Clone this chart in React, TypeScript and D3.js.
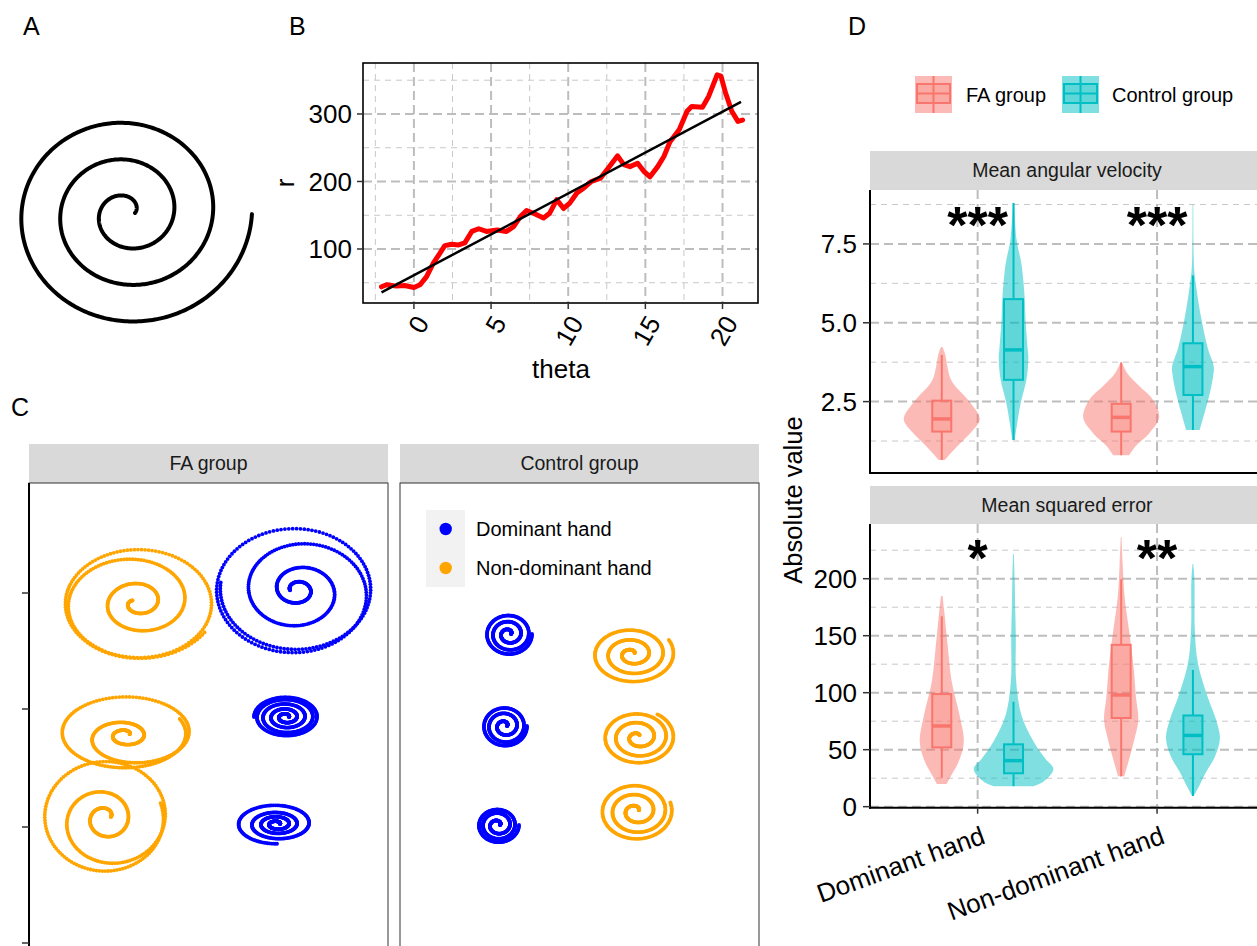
import React from "react";
import * as d3 from "d3";

const FONT = "'Liberation Sans', Arial, Helvetica, sans-serif";
const RED = "#F8766D";
const TEAL = "#00BFC4";
const BLUE = "#0000FF";
const ORANGE = "#FFA500";

// ---------- Panel B data ----------
const thetaVals = [-2.1,-1.77,-1.13,-0.6,0,0.4,0.82,1.26,1.69,2.0,2.45,2.9,3.3,3.75,4.2,4.7,5.4,6.0,6.45,6.9,7.3,7.75,8.4,8.8,9.26,9.7,10.1,10.56,11.0,11.5,12.1,12.6,13.2,13.6,14.0,14.5,14.9,15.3,15.8,16.2,16.6,17.2,17.7,18.0,18.7,19.1,19.65,19.9,20.2,20.6,21.0,21.3];
const rVals = [44,47,45,46,43,47,59,79,94,105,107,106,109,126,130,126,128,126,133,148,157,153,146,153,173,160,168,183,190,200,205,220,238,225,222,227,215,207,222,237,259,277,304,311,310,326,358,356,331,304,289,291];
const fitTheta = [-2.1, 21.2];
const fitR = [35.6, 318];
const bXTicks = [0, 5, 10, 15, 20];
const bXMinor = [-2.5, 2.5, 7.5, 12.5, 17.5];
const bYTicks = [100, 200, 300];
const bYMinor = [50, 150, 250, 350];

// ---------- Panel C data (drawing units) ----------
const cYTicks = [110, 226, 344, 460];
const handLegend = ["Dominant hand", "Non-dominant hand"];
const spirals = [
  { panel: "FA", hand: "Non-dominant hand", cx: 107, cy: 119, ky: 0.74, a0: 2.6, dir: 1, r: [4, 12, 20, 26, 24, 34, 46, 54, 64, 74, 78, 72, 68, 74, 80] },
  { panel: "FA", hand: "Dominant hand", cx: 267, cy: 108, ky: 0.8, a0: 3.0, dir: -1, r: [6, 12, 16, 14, 18, 30, 40, 44, 46, 60, 72, 78, 80, 78, 74, 72, 76] },
  { panel: "FA", hand: "Non-dominant hand", cx: 98, cy: 252, ky: 0.56, a0: 0.5, dir: 1, r: [3, 10, 16, 18, 16, 24, 38, 54, 66, 70, 62, 56, 60] },
  { panel: "FA", hand: "Dominant hand", cx: 257, cy: 234, ky: 0.62, a0: 0, dir: 1, r: [3, 5, 7, 9, 11, 13, 15, 17, 19, 21, 23, 25, 27, 28, 29, 30, 31, 32, 32] },
  { panel: "FA", hand: "Non-dominant hand", cx: 78, cy: 335, ky: 0.9, a0: 0.3, dir: 1, r: [4, 12, 18, 22, 20, 30, 42, 52, 60, 64, 62, 58, 56] },
  { panel: "FA", hand: "Dominant hand", cx: 248, cy: 341, ky: 0.52, a0: 0, dir: 1, r: [3, 5, 8, 10, 12, 14, 16, 18, 20, 22, 25, 28, 32, 36, 39, 38] },
  { panel: "Control", hand: "Dominant hand", cx: 109, cy: 151, ky: 0.88, a0: 0, dir: 1, r: [2, 5, 8, 10, 12, 14, 16, 18, 20, 21, 22, 23, 23] },
  { panel: "Control", hand: "Non-dominant hand", cx: 232, cy: 171, ky: 0.7, a0: 0.5, dir: 1, r: [3, 7, 11, 15, 18, 21, 25, 29, 32, 35, 38, 40, 42] },
  { panel: "Control", hand: "Dominant hand", cx: 105, cy: 243, ky: 0.9, a0: 0, dir: 1, r: [2, 5, 8, 10, 12, 14, 16, 18, 19, 20, 21, 22, 22] },
  { panel: "Control", hand: "Non-dominant hand", cx: 238, cy: 254, ky: 0.75, a0: 1.0, dir: 1, r: [3, 7, 11, 15, 18, 21, 24, 27, 30, 32, 34, 35, 36] },
  { panel: "Control", hand: "Dominant hand", cx: 98, cy: 342, ky: 0.86, a0: 0, dir: 1, r: [2, 5, 8, 10, 12, 14, 15, 16, 17, 18, 19, 20, 21] },
  { panel: "Control", hand: "Non-dominant hand", cx: 236, cy: 328, ky: 0.8, a0: 0.3, dir: 1, r: [3, 7, 11, 15, 18, 21, 24, 27, 30, 32, 34, 35, 36] },
];

// ---------- Panel D data ----------
const handCats = ["Dominant hand", "Non-dominant hand"];
const groups = ["FA group", "Control group"];
const topTicks = [2.5, 5.0, 7.5];
const topMinor = [1.25, 3.75, 6.25, 8.75];
const botTicks = [0, 50, 100, 150, 200];
const botMinor = [25, 75, 125, 175, 225];
// density profiles: [value, relative half width]
const avFaDom = [[0.65,0.08],[1.1,0.42],[1.55,0.79],[1.95,1.0],[2.45,0.76],[3.15,0.26],[3.6,0.15],[4.0,0.09],[4.23,0.02]];
const avCtDom = [[1.28,0.03],[2.4,0.18],[3.2,0.34],[3.9,0.39],[4.2,0.37],[5.0,0.32],[5.85,0.29],[6.85,0.21],[7.65,0.08],[8.8,0.02]];
const avFaNon = [[0.8,0.21],[1.1,0.39],[1.5,0.74],[2.0,1.0],[2.55,0.84],[3.0,0.47],[3.4,0.16],[3.74,0.02]];
const avCtNon = [[1.6,0.18],[2.2,0.32],[2.8,0.45],[3.3,0.53],[3.6,0.55],[4.2,0.39],[5.2,0.21],[6.2,0.08],[6.75,0.03],[8.74,0.01]];
const mseFaDom = [[20,0.13],[28,0.26],[40,0.45],[57,0.58],[80,0.47],[110,0.26],[140,0.16],[170,0.07],[184.8,0.02]];
const mseCtDom = [[18,0.53],[22,0.79],[33,1.05],[42,0.84],[57,0.53],[80,0.21],[110,0.07],[150,0.06],[180,0.04],[200,0.03],[221.7,0.01]];
const mseFaNon = [[26.6,0.08],[38,0.18],[58,0.34],[76,0.45],[96,0.39],[125,0.32],[154,0.21],[184,0.09],[213,0.04],[236.3,0.01]];
const mseCtNon = [[9.4,0.02],[18,0.16],[30,0.34],[44,0.58],[60,0.71],[76,0.61],[96,0.39],[126,0.13],[155,0.05],[199,0.04],[212.9,0.01]];
// box stats: [lower whisker, q1, median, q3, upper whisker]
const avBoxFaDom = [0.65, 1.55, 1.95, 2.53, 3.98];
const avBoxCtDom = [1.28, 3.19, 4.14, 5.75, 8.8];
const avBoxFaNon = [0.8, 1.55, 2.0, 2.43, 3.74];
const avBoxCtNon = [1.6, 2.71, 3.61, 4.35, 6.5];
const mseBoxFaDom = [25.4, 52, 70.8, 98.8, 167];
const mseBoxCtDom = [18, 29.3, 40.4, 54.7, 92];
const mseBoxFaNon = [26.6, 77.8, 98, 142, 199.5];
const mseBoxCtNon = [9.4, 46, 62.5, 80, 120];
const avStars = ["***", "***"];
const mseStars = ["*", "**"];

function Violin({ dens, box, cx, y, color }: any) {
  const hw = 38;
  const area = d3
    .area<number[]>()
    .y((d) => y(d[0]))
    .x0((d) => cx - d[1] * hw)
    .x1((d) => cx + d[1] * hw)
    .curve(d3.curveCatmullRom.alpha(0.5));
  const bw = 9.5;
  return (
    <g>
      <path d={area(dens) || ""} fill={color} fillOpacity={0.5} stroke="none" />
      <line x1={cx} x2={cx} y1={y(box[0])} y2={y(box[1])} stroke={color} strokeWidth={2} />
      <line x1={cx} x2={cx} y1={y(box[3])} y2={y(box[4])} stroke={color} strokeWidth={2} />
      <rect x={cx - bw} width={2 * bw} y={y(box[3])} height={y(box[1]) - y(box[3])} fill={color} fillOpacity={0.25} stroke={color} strokeWidth={2} />
      <line x1={cx - bw} x2={cx + bw} y1={y(box[2])} y2={y(box[2])} stroke={color} strokeWidth={3.5} />
    </g>
  );
}

function spiralDots(s: any) {
  const n = s.r.length - 1;
  const total = (n * Math.PI) / 2;
  const step = 0.05;
  const steps = Math.ceil(total / step);
  const interp = d3.interpolateBasis(s.r);
  return d3.range(steps + 1).map((i) => {
    const t = i / steps;
    const a = s.a0 + s.dir * t * total;
    const rr = interp(t);
    return [s.cx + rr * Math.cos(a), s.cy - s.ky * rr * Math.sin(a)];
  });
}

export default function App() {
  // ---------- Panel A ----------
  const aAngles = d3.range(0, 6 * Math.PI + 0.001, 0.02);
  const rA = d3.scaleLinear().domain([0, 6 * Math.PI]).range([8, 125]);
  const aLine = d3.line<number>()
    .x((t) => 127 + rA(t) * Math.cos(t))
    .y((t) => 213 - 0.94 * rA(t) * Math.sin(t));

  // ---------- Panel B ----------
  const xB = d3.scaleLinear().domain([-3.3, 22.3]).range([363, 758]);
  const yB = d3.scaleLinear().domain([20, 375.5]).range([303, 63]);
  const redLine = d3.line<number>().x((i) => xB(thetaVals[i])).y((i) => yB(rVals[i]));
  const fitLine = d3.line<number>().x((i) => xB(fitTheta[i])).y((i) => yB(fitR[i]));

  // ---------- Panel C ----------
  const yC = d3.scaleLinear().domain([0, 463]).range([483, 946]);
  const xCfa = d3.scaleLinear().domain([0, 359]).range([29, 388]);
  const xCct = d3.scaleLinear().domain([0, 359]).range([400, 759]);
  const handColor = d3.scaleOrdinal<string>().domain(handLegend).range([BLUE, ORANGE]);

  // ---------- Panel D ----------
  const xD = d3.scaleLinear().domain([0.4, 2.6]).range([870, 1264.7]);
  const yTop = d3.scaleLinear().domain([0.236, 9.21]).range([473, 190]);
  const yBot = d3.scaleLinear().domain([-0.9, 248]).range([807.7, 524]);
  const groupColor = d3.scaleOrdinal<string>().domain(groups).range([RED, TEAL]);
  const dodge = 0.2;

  const gridMajor = { stroke: "#bdbdbd", strokeWidth: 2, strokeDasharray: "9,5" };
  const gridMinor = { stroke: "#c8c8c8", strokeWidth: 1, strokeDasharray: "6,5" };

  const topViolins = [
    { dens: avFaDom, box: avBoxFaDom, c: 0, g: 0 },
    { dens: avCtDom, box: avBoxCtDom, c: 0, g: 1 },
    { dens: avFaNon, box: avBoxFaNon, c: 1, g: 0 },
    { dens: avCtNon, box: avBoxCtNon, c: 1, g: 1 },
  ];
  const botViolins = [
    { dens: mseFaDom, box: mseBoxFaDom, c: 0, g: 0 },
    { dens: mseCtDom, box: mseBoxCtDom, c: 0, g: 1 },
    { dens: mseFaNon, box: mseBoxFaNon, c: 1, g: 0 },
    { dens: mseCtNon, box: mseBoxCtNon, c: 1, g: 1 },
  ];

  const dPanel = (y: any, ticks: number[], minor: number[], top: number, bottom: number, violins: any[], stars: string[], starVal: number, showX: boolean, stripTop: number, title: string) => (
    <g>
      <rect x={870} y={stripTop} width={395} height={top - stripTop} fill="#d9d9d9" />
      <text x={1067} y={(stripTop + top) / 2} dy="0.35em" textAnchor="middle" fontSize={19.5} fill="#1a1a1a">{title}</text>
      {minor.filter((v) => y(v) > top && y(v) < bottom).map((v) => (
        <line key={"mi" + v} x1={870} x2={1265} y1={y(v)} y2={y(v)} {...gridMinor} />
      ))}
      {ticks.map((v) => (
        <line key={"ma" + v} x1={870} x2={1265} y1={y(v)} y2={y(v)} {...gridMajor} />
      ))}
      {handCats.map((h, i) => (
        <line key={h} x1={xD(i + 1)} x2={xD(i + 1)} y1={top} y2={bottom} {...gridMajor} />
      ))}
      {violins.map((v, i) => (
        <Violin key={i} dens={v.dens} box={v.box} cx={xD(v.c + 1 + (v.g === 0 ? -dodge : dodge))} y={y} color={groupColor(groups[v.g])} />
      ))}
      {stars.map((s, i) => (
        <text key={i} x={xD(i + 1)} y={y(starVal)} textAnchor="middle" fontSize={52} fontWeight="bold" fill="#000">{s}</text>
      ))}
      <line x1={870} x2={870} y1={top} y2={bottom + 1} stroke="#000" strokeWidth={2} />
      <line x1={869} x2={1265} y1={bottom} y2={bottom} stroke="#000" strokeWidth={2} />
      {ticks.map((v) => (
        <g key={"t" + v}>
          <line x1={863} x2={870} y1={y(v)} y2={y(v)} stroke="#333" strokeWidth={1.5} />
          <text x={857} y={y(v)} dy="0.36em" textAnchor="end" fontSize={26} fill="#000">{y === yTop ? d3.format(".1f")(v) : v}</text>
        </g>
      ))}
      {showX && handCats.map((h, i) => (
        <g key={"x" + h}>
          <line x1={xD(i + 1)} x2={xD(i + 1)} y1={bottom} y2={bottom + 6} stroke="#333" strokeWidth={1.5} />
          <text transform={`translate(${xD(i + 1) + 9},${bottom + 35}) rotate(-20)`} textAnchor="end" fontSize={26} fill="#000">{h}</text>
        </g>
      ))}
    </g>
  );

  return (
    <svg width={1257} height={946} style={{ position: "absolute", left: 0, top: 0, background: "#fff" }} fontFamily={FONT}>
      <rect x={0} y={0} width={1257} height={946} fill="#fff" />
      {/* Panel labels */}
      <text x={23} y={35} fontSize={25}>A</text>
      <text x={289} y={35} fontSize={25}>B</text>
      <text x={11} y={416} fontSize={25}>C</text>
      <text x={848} y={35} fontSize={25}>D</text>

      {/* Panel A */}
      <path d={aLine(aAngles) || ""} fill="none" stroke="#000" strokeWidth={4} strokeLinecap="round" />

      {/* Panel B */}
      <g>
        <rect x={363} y={63} width={395} height={240} fill="#fff" />
        {bXMinor.map((v) => <line key={"bxm" + v} x1={xB(v)} x2={xB(v)} y1={63} y2={303} {...gridMinor} />)}
        {bYMinor.map((v) => <line key={"bym" + v} x1={363} x2={758} y1={yB(v)} y2={yB(v)} {...gridMinor} />)}
        {bXTicks.map((v) => <line key={"bx" + v} x1={xB(v)} x2={xB(v)} y1={63} y2={303} {...gridMajor} />)}
        {bYTicks.map((v) => <line key={"by" + v} x1={363} x2={758} y1={yB(v)} y2={yB(v)} {...gridMajor} />)}
        <path d={redLine(d3.range(thetaVals.length)) || ""} fill="none" stroke="#ff0000" strokeWidth={5} strokeLinejoin="round" strokeLinecap="round" />
        <path d={fitLine([0, 1]) || ""} fill="none" stroke="#000" strokeWidth={2.5} />
        <rect x={363} y={63} width={395} height={240} fill="none" stroke="#000" strokeWidth={1.6} />
        {bYTicks.map((v) => (
          <g key={"byt" + v}>
            <line x1={357} x2={363} y1={yB(v)} y2={yB(v)} stroke="#333" strokeWidth={1.5} />
            <text x={352} y={yB(v)} dy="0.36em" textAnchor="end" fontSize={26}>{v}</text>
          </g>
        ))}
        {bXTicks.map((v) => (
          <g key={"bxt" + v}>
            <line x1={xB(v)} x2={xB(v)} y1={303} y2={309} stroke="#333" strokeWidth={1.5} />
            <text transform={`translate(${xB(v) + 8},${318}) rotate(-60)`} dy="0.36em" textAnchor="end" fontSize={26}>{v}</text>
          </g>
        ))}
        <text x={561} y={378} textAnchor="middle" fontSize={26}>theta</text>
        <text transform="translate(294,183) rotate(-90)" textAnchor="middle" fontSize={26}>r</text>
      </g>

      {/* Panel C */}
      <g>
        <rect x={29} y={444} width={359} height={39} fill="#d9d9d9" />
        <text x={208.5} y={463.5} dy="0.35em" textAnchor="middle" fontSize={19.5} fill="#1a1a1a">FA group</text>
        <rect x={400} y={444} width={359} height={39} fill="#d9d9d9" />
        <text x={579.5} y={463.5} dy="0.35em" textAnchor="middle" fontSize={19.5} fill="#1a1a1a">Control group</text>
        <rect x={29} y={483} width={359} height={480} fill="#fff" stroke="#333" strokeWidth={1} />
        <rect x={400} y={483} width={359} height={480} fill="#fff" stroke="#333" strokeWidth={1} />
        <line x1={29} x2={29} y1={483} y2={946} stroke="#000" strokeWidth={2} />
        {cYTicks.map((v) => <line key={"ct" + v} x1={22} x2={29} y1={yC(v)} y2={yC(v)} stroke="#333" strokeWidth={1.5} />)}
        {spirals.map((s, si) => {
          const xs = s.panel === "FA" ? xCfa : xCct;
          return (
            <g key={si} fill={handColor(s.hand)}>
              {spiralDots(s).map((p, i) => <circle key={i} cx={xs(p[0])} cy={yC(p[1])} r={1.9} />)}
            </g>
          );
        })}
        <rect x={426} y={510} width={39} height={77} fill="#f2f2f2" />
        {handLegend.map((h, i) => (
          <g key={h}>
            <circle cx={445.7} cy={529 + i * 39} r={6.2} fill={handColor(h)} />
            <text x={476} y={529 + i * 39} dy="0.35em" fontSize={20} fill="#000">{h}</text>
          </g>
        ))}
      </g>

      {/* Panel D */}
      {dPanel(yTop, topTicks, topMinor, 190, 473, topViolins, avStars, 7.54, false, 151, "Mean angular velocity")}
      {dPanel(yBot, botTicks, botMinor, 524, 807.7, botViolins, mseStars, 202.4, true, 486, "Mean squared error")}
      <text transform="translate(802,500) rotate(-90)" textAnchor="middle" fontSize={25.5}>Absolute value</text>
      {/* Legend D */}
      {groups.map((g, i) => {
        const kx = i === 0 ? 915 : 1062;
        const tx = i === 0 ? 966 : 1112;
        const c = groupColor(g);
        return (
          <g key={g}>
            <rect x={kx} y={76} width={37} height={37} fill={c} fillOpacity={0.5} />
            <line x1={kx + 18.5} x2={kx + 18.5} y1={76} y2={113} stroke={c} strokeWidth={2} />
            <rect x={kx + 2} y={84} width={33} height={19} fill={c} fillOpacity={0.25} stroke={c} strokeWidth={2} />
            <line x1={kx + 2} x2={kx + 35} y1={93.5} y2={93.5} stroke={c} strokeWidth={2} />
            <text x={tx} y={95} dy="0.35em" fontSize={20}>{g}</text>
          </g>
        );
      })}
    </svg>
  );
}
